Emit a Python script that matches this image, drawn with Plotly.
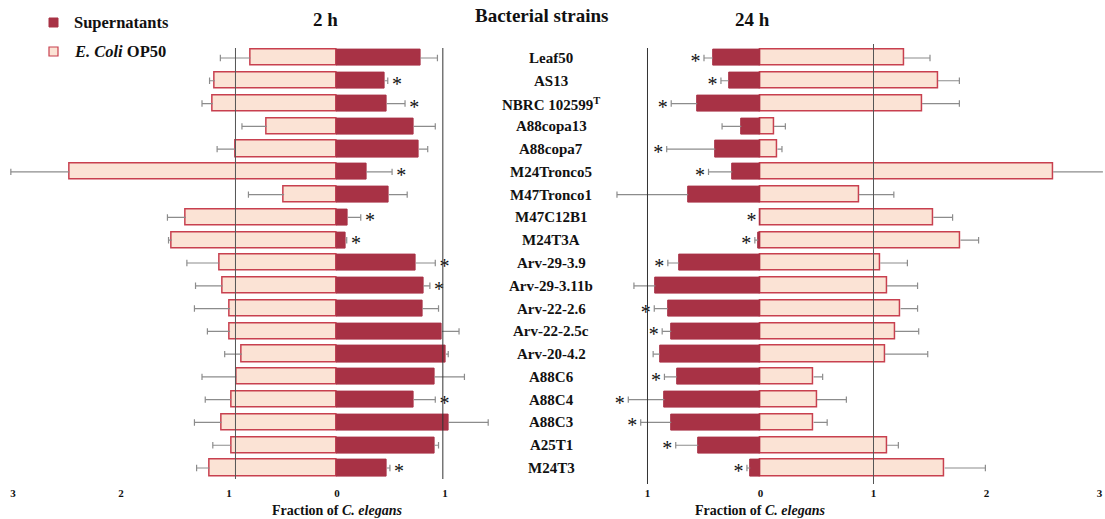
import plotly.graph_objects as go

strains = ["Leaf50", "AS13", "NBRC 102599<sup>T</sup>", "A88copa13", "A88copa7", "M24Tronco5",
           "M47Tronco1", "M47C12B1", "M24T3A", "Arv-29-3.9", "Arv-29-3.11b", "Arv-22-2.6",
           "Arv-22-2.5c", "Arv-20-4.2", "A88C6", "A88C4", "A88C3", "A25T1", "M24T3"]

# 2 h panel
sup_2h = [0.77, 0.44, 0.46, 0.71, 0.76, 0.27, 0.48, 0.10, 0.08, 0.73, 0.80, 0.79, 0.97, 1.01, 0.90, 0.71, 1.03, 0.90, 0.46]
sup_2h_err = [0.16, 0.03, 0.17, 0.20, 0.08, 0.24, 0.17, 0.12, 0.01, 0.18, 0.06, 0.15, 0.16, 0.02, 0.28, 0.20, 0.37, 0.04, 0.03]
op_2h = [0.80, 1.13, 1.15, 0.65, 0.94, 2.48, 0.49, 1.40, 1.53, 1.09, 1.06, 0.99, 0.99, 0.88, 0.93, 0.98, 1.07, 0.98, 1.18]
op_2h_err = [0.28, 0.05, 0.10, 0.23, 0.17, 0.54, 0.33, 0.17, 0.03, 0.30, 0.25, 0.33, 0.21, 0.16, 0.32, 0.24, 0.25, 0.17, 0.12]
sig_2h = [0, 1, 1, 0, 0, 1, 0, 1, 1, 1, 1, 0, 0, 0, 0, 1, 0, 0, 1]

# 24 h panel
sup_24h = [0.42, 0.28, 0.56, 0.17, 0.40, 0.25, 0.64, 0.005, 0.02, 0.72, 0.93, 0.82, 0.79, 0.89, 0.74, 0.85, 0.79, 0.55, 0.09]
sup_24h_err = [0.08, 0.07, 0.23, 0.17, 0.43, 0.21, 0.63, 0.0, 0.03, 0.10, 0.19, 0.12, 0.08, 0.06, 0.11, 0.32, 0.27, 0.20, 0.03]
op_24h = [1.27, 1.57, 1.43, 0.12, 0.15, 2.59, 0.87, 1.53, 1.77, 1.06, 1.12, 1.24, 1.19, 1.10, 0.47, 0.50, 0.47, 1.12, 1.63]
op_24h_err = [0.23, 0.19, 0.33, 0.10, 0.04, 0.46, 0.31, 0.17, 0.16, 0.24, 0.27, 0.15, 0.21, 0.38, 0.08, 0.26, 0.12, 0.10, 0.36]
sig_24h = [1, 1, 1, 0, 1, 1, 0, 1, 1, 1, 0, 1, 1, 0, 1, 1, 1, 1, 1]

left_ticks = [-3, -2, -1, 0, 1]
left_ticktext = ["3", "2", "1", "0", "1"]
right_ticks = [-1, 0, 1, 2, 3]
right_ticktext = ["1", "0", "1", "2", "3"]

SUP_FILL = "#A83245"
OP_FILL = "#FBE3D5"
OP_LINE = "#C8404F"
ERR = "#8C8C8C"
FONT = "Liberation Serif"
W, H = 1105, 519

ypos = list(range(len(strains)))
fig = go.Figure()


def err_trace(ends, errs, sign, xaxis):
    xs, ys = [], []
    for y, e, d in zip(ypos, ends, errs):
        if d <= 0:
            continue
        x0 = sign * e
        x1 = sign * (e + d)
        xs += [x0, x1, None, x1, x1, None]
        ys += [y, y, None, y - 0.14, y + 0.14, None]
    return go.Scatter(x=xs, y=ys, mode="lines", line=dict(color=ERR, width=1.2),
                      xaxis=xaxis, yaxis="y", showlegend=False, hoverinfo="skip")


BW = 0.71
# Left panel (2 h): supernatants to the right, OP50 to the left
fig.add_trace(go.Bar(y=ypos, x=[-v for v in op_2h], orientation="h", base=0,
                     marker=dict(color=OP_FILL, line=dict(color=OP_LINE, width=1.5)),
                     width=BW, xaxis="x", yaxis="y", showlegend=False))
fig.add_trace(go.Bar(y=ypos, x=sup_2h, orientation="h", base=0,
                     marker=dict(color=SUP_FILL, line=dict(color=SUP_FILL, width=1)),
                     width=BW, xaxis="x", yaxis="y", showlegend=False))
fig.add_trace(err_trace(op_2h, op_2h_err, -1, "x"))
fig.add_trace(err_trace(sup_2h, sup_2h_err, 1, "x"))

# Right panel (24 h): supernatants to the left, OP50 to the right
fig.add_trace(go.Bar(y=ypos, x=op_24h, orientation="h", base=0,
                     marker=dict(color=OP_FILL, line=dict(color=OP_LINE, width=1.5)),
                     width=BW, xaxis="x2", yaxis="y", showlegend=False))
fig.add_trace(go.Bar(y=ypos, x=[-v for v in sup_24h], orientation="h", base=0,
                     marker=dict(color=SUP_FILL, line=dict(color=SUP_FILL, width=1)),
                     width=BW, xaxis="x2", yaxis="y", showlegend=False))
fig.add_trace(err_trace(op_24h, op_24h_err, 1, "x2"))
fig.add_trace(err_trace(sup_24h, sup_24h_err, -1, "x2"))

# significance asterisks
ax, ay = [], []
for y, v, e, s in zip(ypos, sup_2h, sup_2h_err, sig_2h):
    if s:
        ax.append(v + e + 0.085)
        ay.append(y + 0.22)
fig.add_trace(go.Scatter(x=ax, y=ay, mode="text", text=["*"] * len(ax),
                         textfont=dict(family=FONT, size=20, color="#111"),
                         xaxis="x", yaxis="y", showlegend=False, hoverinfo="skip"))
bx, by = [], []
for y, v, e, s in zip(ypos, sup_24h, sup_24h_err, sig_24h):
    if s:
        bx.append(-(v + e + 0.075))
        by.append(y + 0.22)
fig.add_trace(go.Scatter(x=bx, y=by, mode="text", text=["*"] * len(bx),
                         textfont=dict(family=FONT, size=20, color="#111"),
                         xaxis="x2", yaxis="y", showlegend=False, hoverinfo="skip"))

# strain labels in the middle
for y, name in zip(ypos, strains):
    fig.add_annotation(x=551 / W, y=y, xref="paper", yref="y", text="<b>%s</b>" % name,
                       showarrow=False, xanchor="center", yanchor="middle",
                       font=dict(family=FONT, size=15, color="#111"))

# reference lines
shapes = [
    dict(type="line", xref="x", yref="paper", x0=-0.94, x1=-0.94, y0=1 - 479 / H, y1=1 - 48 / H, line=dict(color="#555", width=1)),
    dict(type="line", xref="x", yref="paper", x0=0.98, x1=0.98, y0=1 - 479 / H, y1=1 - 48 / H, line=dict(color="#333", width=1)),
    dict(type="line", xref="x2", yref="paper", x0=-1.0, x1=-1.0, y0=1 - 484 / H, y1=1 - 48 / H, line=dict(color="#333", width=1)),
    dict(type="line", xref="x2", yref="paper", x0=1.0, x1=1.0, y0=1 - 484 / H, y1=1 - 44 / H, line=dict(color="#555", width=1)),
    # legend symbols
    dict(type="rect", xref="paper", yref="paper", x0=49 / W, x1=58 / W, y0=1 - 27 / H, y1=1 - 18 / H,
         fillcolor=SUP_FILL, line=dict(color=SUP_FILL, width=1)),
    dict(type="rect", xref="paper", yref="paper", x0=49 / W, x1=58 / W, y0=1 - 56 / H, y1=1 - 47 / H,
         fillcolor=OP_FILL, line=dict(color=OP_LINE, width=1.2)),
]
fig.update_layout(shapes=shapes)

ann = [
    dict(x=72, y=22.5, text="<b>Supernatants</b>", xanchor="left", size=16.5),
    dict(x=72, y=51.5, text="<b><i>E. Coli</i> OP50</b>", xanchor="left", size=16.5),
    dict(x=325, y=19, text="<b>2 h</b>", xanchor="center", size=19),
    dict(x=542, y=16, text="<b>Bacterial strains</b>", xanchor="center", size=19),
    dict(x=752, y=19, text="<b>24 h</b>", xanchor="center", size=19),
    dict(x=337, y=510, text="<b>Fraction of <i>C. elegans</i></b>", xanchor="center", size=14),
    dict(x=760, y=510, text="<b>Fraction of <i>C. elegans</i></b>", xanchor="center", size=14),
]
for a in ann:
    fig.add_annotation(x=a["x"] / W, y=1 - a["y"] / H, xref="paper", yref="paper", text=a["text"],
                       showarrow=False, xanchor=a["xanchor"], yanchor="middle",
                       font=dict(family=FONT, size=a["size"], color="#111"))

axis_common = dict(showgrid=False, zeroline=False, showline=False, ticks="",
                   tickfont=dict(family=FONT, size=11, color="#111"), fixedrange=True,
                   ticklabelstandoff=6)
fig.update_layout(
    width=W, height=H,
    margin=dict(l=0, r=0, t=0, b=0),
    paper_bgcolor="white", plot_bgcolor="white",
    barmode="overlay", bargap=0,
    xaxis=dict(domain=[7.6 / W, 493.6 / W], range=[-3.05, 1.45], tickvals=left_ticks,
               ticktext=["<b>%s</b>" % t for t in left_ticktext], anchor="y", **axis_common),
    xaxis2=dict(domain=[610.2 / W, 1102.9 / W], range=[-1.33, 3.03], tickvals=right_ticks,
                ticktext=["<b>%s</b>" % t for t in right_ticktext], anchor="y", **axis_common),
    yaxis=dict(domain=[1 - 479.4 / H, 1 - 46.6 / H], range=[len(strains) - 0.5, -0.5],
               showticklabels=False, showgrid=False, zeroline=False, showline=False, fixedrange=True),
    showlegend=False,
)

fig.write_html("out.html")
